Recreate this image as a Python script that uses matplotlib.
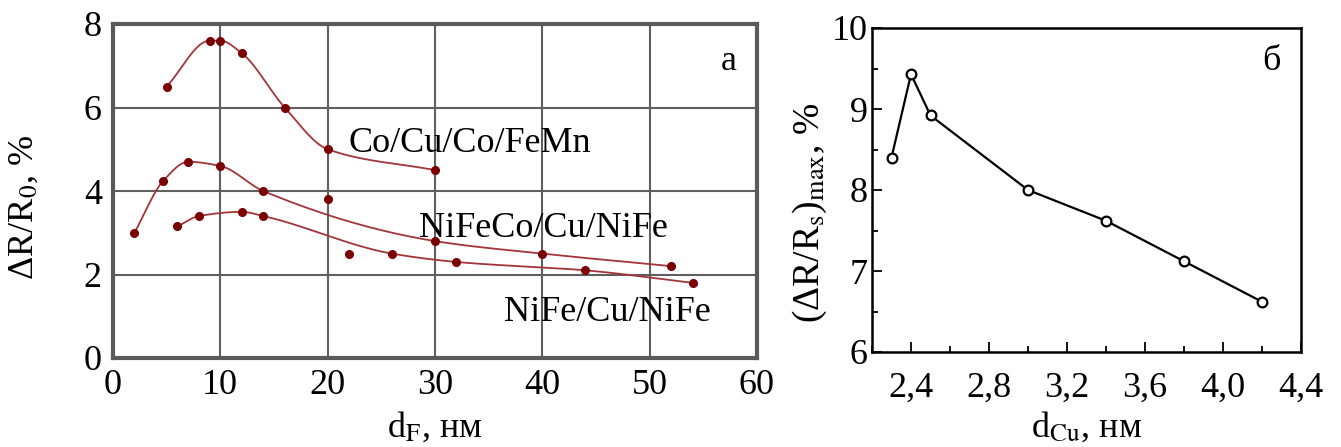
import numpy as np
import matplotlib
matplotlib.use("Agg")
from matplotlib import pyplot as plt
from matplotlib.ticker import MultipleLocator

plt.rcParams['font.family'] = ['Liberation Serif', 'DejaVu Serif']
plt.rcParams['mathtext.fontset'] = 'stix'
plt.rcParams['font.size'] = 26

# panel a: GMR vs ferromagnetic layer thickness
co_x = [5, 9, 10, 12, 16, 20, 30]
co_y = [6.5, 7.6, 7.6, 7.3, 6.0, 5.0, 4.5]

nifeco_x = [2, 4.7, 7, 10, 14, 20, 30, 40, 52]
nifeco_y = [3.0, 4.25, 4.7, 4.6, 4.0, 3.8, 2.8, 2.5, 2.2]
nifeco_off = [20]          # measured point left off the guide curve

nife_x = [6, 8, 12, 14, 22, 26, 32, 44, 54]
nife_y = [3.15, 3.4, 3.5, 3.4, 2.5, 2.5, 2.3, 2.1, 1.8]
nife_off = [22]

# panel b: maximum MR vs Cu spacer thickness
cu_x = [2.3, 2.4, 2.5, 3.0, 3.4, 3.8, 4.2]
cu_y = [8.4, 9.43, 8.92, 8.0, 7.62, 7.12, 6.62]


def pchip(x, y, xs):
    # monotone cubic hermite curve through the points
    x = np.asarray(x, float)
    y = np.asarray(y, float)
    h = np.diff(x)
    d = np.diff(y) / h
    m = np.zeros(len(x))
    m[0], m[-1] = d[0], d[-1]
    for k in range(1, len(x) - 1):
        if d[k - 1] * d[k] > 0:
            w1 = 2 * h[k] + h[k - 1]
            w2 = h[k] + 2 * h[k - 1]
            m[k] = (w1 + w2) / (w1 / d[k - 1] + w2 / d[k])
    i = np.clip(np.searchsorted(x, xs) - 1, 0, len(x) - 2)
    t = (xs - x[i]) / h[i]
    h00 = 2 * t**3 - 3 * t**2 + 1
    h10 = t**3 - 2 * t**2 + t
    h01 = -2 * t**3 + 3 * t**2
    h11 = t**3 - t**2
    return h00 * y[i] + h10 * h[i] * m[i] + h01 * y[i + 1] + h11 * h[i] * m[i + 1]


def guide(ax, xs, ys, skip=()):
    px = [a for a in xs if a not in skip]
    py = [b for a, b in zip(xs, ys) if a not in skip]
    xx = np.linspace(px[0], px[-1], 300)
    ax.plot(xx, pchip(px, py, xx), color='#a3353a', lw=1.3, zorder=2)
    ax.plot(xs, ys, 'o', color='#7a0000', ms=5.5, zorder=3)


fig = plt.figure(figsize=(13.41, 4.47), dpi=100)

ax1 = fig.add_axes([113/1341, 89/447, 644/1341, 334/447])
guide(ax1, co_x, co_y)
guide(ax1, nifeco_x, nifeco_y, nifeco_off)
guide(ax1, nife_x, nife_y, nife_off)

ax1.set_xlim(0, 60)
ax1.set_ylim(0, 8)
ax1.set_xticks(range(0, 61, 10))
ax1.set_yticks(range(0, 9, 2))
ax1.grid(True, color='#5f5f5f', lw=1.5)
ax1.tick_params(length=0, pad=8)
for s in ax1.spines.values():
    s.set_color('#5a5a5a')
    s.set_linewidth(3)

ax1.text(21.9, 4.94, 'Co/Cu/Co/FeMn')
ax1.text(28.5, 2.90, 'NiFeCo/Cu/NiFe')
ax1.text(36.4, 0.88, 'NiFe/Cu/NiFe')
ax1.text(57.4, 6.9, 'а', ha='center')
ax1.set_xlabel(r'd$_\mathrm{F}$, нм', labelpad=6)
ax1.set_ylabel(r'ΔR/R$_0$, %')
ax1.yaxis.set_label_coords(-0.112, 0.45)

ax2 = fig.add_axes([872/1341, 95/447, 429/1341, 324/447])
ax2.plot(cu_x, cu_y, '-o', color='black', lw=1.6, ms=7,
         mfc='white', mec='black', mew=1.6)
ax2.set_xlim(2.2, 4.4)
ax2.set_ylim(6, 10)
ax2.xaxis.set_major_locator(MultipleLocator(0.4))
ax2.xaxis.set_minor_locator(MultipleLocator(0.2))
ax2.yaxis.set_major_locator(MultipleLocator(1))
ax2.yaxis.set_minor_locator(MultipleLocator(0.5))
ax2.set_xticks([2.4, 2.8, 3.2, 3.6, 4.0, 4.4])
ax2.set_xticklabels(['2,4', '2,8', '3,2', '3,6', '4,0', '4,4'])
ax2.tick_params(which='both', direction='in', width=1.3)
ax2.tick_params(which='major', length=7)
ax2.tick_params(axis='x', which='major', pad=14)
ax2.tick_params(axis='y', which='major', pad=3)
ax2.tick_params(which='minor', length=4)
for s in ax2.spines.values():
    s.set_linewidth(1.8)

ax2.text(4.25, 9.48, 'б', ha='center')
ax2.set_xlabel(r'd$_\mathrm{Cu}$, нм', labelpad=4)
ax2.set_ylabel(r'(ΔR/R$_\mathrm{s}$)$_\mathrm{max}$, %', fontsize=27)
ax2.yaxis.set_label_coords(-0.10, 0.43)

fig.savefig('out.png', dpi=100)
